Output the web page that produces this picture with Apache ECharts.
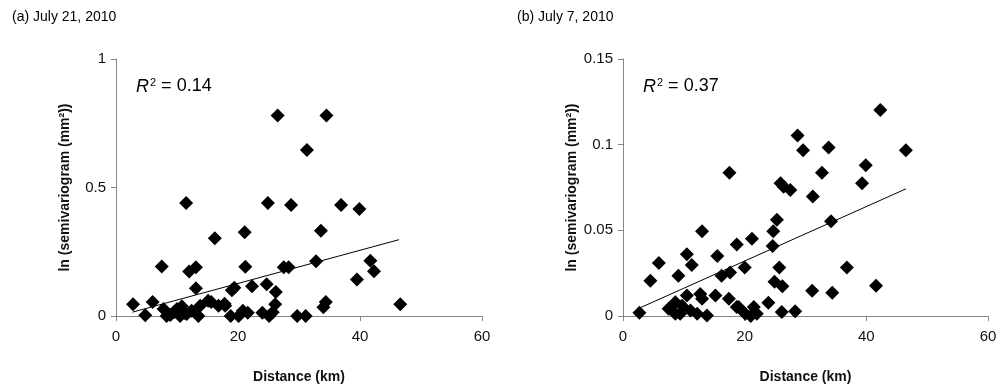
<!DOCTYPE html>
<html><head><meta charset="utf-8">
<script src="https://cdn.jsdelivr.net/npm/echarts@6/dist/echarts.min.js"></script>
<style>html,body{margin:0;padding:0;background:#fff}#c{width:1000px;height:389px}</style>
</head><body><div id="c"></div>
<script>
// Panel (a) July 21, 2010 : [distance km, ln semivariogram]
const pointsA = [
 [2.8,0.046],[4.8,0.003],[6.0,0.054],[7.5,0.193],[7.8,0.027],[8.3,0.0],[8.9,0.004],[9.5,0.015],
 [10.0,0.027],[10.5,0.0],[10.8,0.038],[11.2,0.012],[11.6,0.008],[11.5,0.44],[12.0,0.173],[12.4,0.02],
 [13.1,0.19],[13.1,0.108],[13.5,0.0],[13.8,0.04],[15.1,0.059],[15.6,0.054],[16.2,0.303],[16.8,0.04],
 [17.8,0.048],[17.9,0.04],[18.8,0.0],[19.0,0.1],[19.4,0.11],[20.1,0.0],[20.8,0.02],[21.6,0.013],
 [21.1,0.326],[21.2,0.192],[22.3,0.116],[24.0,0.013],[24.7,0.124],[24.9,0.44],[25.1,0.0],[25.7,0.015],
 [26.2,0.093],[26.1,0.046],[26.5,0.78],[27.5,0.19],[28.3,0.19],[28.7,0.432],[29.7,0.0],[31.1,0.0],
 [31.3,0.646],[32.8,0.213],[33.6,0.332],[34.0,0.034],[34.4,0.054],[34.5,0.78],[36.9,0.432],[39.5,0.142],
 [39.9,0.416],[41.7,0.215],[42.3,0.174],[46.6,0.046]
];
const trendA = [[2.7,0.015],[46.4,0.297]];
const r2A = '0.14';

// Panel (b) July 7, 2010
const pointsB = [
 [2.7,0.0019],[4.5,0.0206],[5.9,0.031],[7.5,0.0042],[8.6,0.008],[8.6,0.0013],[9.1,0.0235],[9.4,0.0013],
 [9.7,0.006],[10.5,0.036],[10.5,0.0119],[11.1,0.0032],[11.3,0.0297],[12.2,0.0013],[12.7,0.0129],[13.0,0.010],
 [13.0,0.0495],[13.8,0.0003],[15.2,0.0119],[15.5,0.035],[16.2,0.0235],[17.4,0.010],[17.5,0.0836],[17.6,0.0254],
 [18.7,0.0418],[18.7,0.0052],[19.0,0.0052],[20.0,0.0283],[20.1,0.0013],[21.0,0.0],[21.2,0.0451],[21.5,0.0052],
 [22.0,0.0013],[23.9,0.0077],[24.6,0.0408],[24.7,0.0495],[24.9,0.020],[25.3,0.0562],[25.7,0.0283],[25.9,0.0775],
 [26.1,0.0023],[26.2,0.0173],[26.4,0.0755],[27.5,0.0736],[28.3,0.0027],[28.7,0.1054],[29.6,0.0967],[31.1,0.0148],
 [31.2,0.0697],[32.7,0.0836],[33.8,0.0983],[34.2,0.0553],[34.4,0.0135],[36.8,0.0283],[39.3,0.0775],[39.9,0.088],
 [41.6,0.0177],[42.3,0.1202],[46.5,0.0967]
];
const trendB = [[2.7,0.0046],[46.5,0.0742]];
const r2B = '0.37';

const xTicks = [0,20,40,60];
const yTicksA = [0,0.5,1];
const yTicksB = [0,0.05,0.1,0.15];

const axisGray = '#868686';
const font = 'Liberation Sans, Arial, sans-serif';

function xAxis(gi){
  return {gridIndex:gi,type:'value',min:xTicks[0],max:xTicks[xTicks.length-1],interval:xTicks[1]-xTicks[0],
    name:'Distance (km)',nameLocation:'middle',nameGap:54,
    nameTextStyle:{fontFamily:font,fontWeight:'bold',fontSize:14,color:'#111'},
    axisLine:{lineStyle:{color:axisGray,width:1}},axisTick:{show:true,length:5,lineStyle:{color:axisGray}},
    axisLabel:{fontFamily:font,fontSize:15,color:'#111',margin:13},splitLine:{show:false}};
}
function yAxis(gi,ticks){
  return {gridIndex:gi,type:'value',min:ticks[0],max:ticks[ticks.length-1],interval:ticks[1]-ticks[0],
    name:'ln (semivariogram (mm²))',nameLocation:'middle',nameGap:44,
    nameTextStyle:{fontFamily:font,fontWeight:'bold',fontSize:14,color:'#111'},
    axisLine:{show:true,lineStyle:{color:axisGray,width:1}},axisTick:{show:true,length:5,lineStyle:{color:axisGray}},
    axisLabel:{fontFamily:font,fontSize:15,color:'#111',margin:10},splitLine:{show:false}};
}
function r2Title(left, val){
  return {left:left,top:72,text:'{i|R}{s|2}{n| = '+val+'}',
    textStyle:{fontWeight:'normal',rich:{i:{fontFamily:font,fontStyle:'italic',fontWeight:'normal',fontSize:18,color:'#000'},
      s:{fontFamily:font,fontSize:11,fontWeight:'normal',color:'#000',verticalAlign:'top',padding:[0,0,8,1]},
      n:{fontFamily:font,fontSize:18,fontWeight:'normal',color:'#000'}}}};
}
const chart = echarts.init(document.getElementById('c'),null,{renderer:'canvas'});
chart.setOption({
  animation:false,
  title:[
    {left:7,top:5,text:'(a) July 21, 2010',textStyle:{fontFamily:font,fontSize:14,fontWeight:'normal',color:'#000'}},
    {left:512,top:5,text:'(b) July 7, 2010',textStyle:{fontFamily:font,fontSize:14,fontWeight:'normal',color:'#000'}},
    r2Title(131,r2A), r2Title(638,r2B)
  ],
  grid:[{left:116,top:59,width:366,height:258},{left:623,top:59,width:365,height:258}],
  xAxis:[xAxis(0),xAxis(1)],
  yAxis:[yAxis(0,yTicksA),yAxis(1,yTicksB)],
  series:[
    {type:'scatter',xAxisIndex:0,yAxisIndex:0,data:pointsA,symbol:'diamond',symbolSize:14,itemStyle:{color:'#000',opacity:1}},
    {type:'line',xAxisIndex:0,yAxisIndex:0,data:trendA,symbol:'none',lineStyle:{color:'#000',width:1}},
    {type:'scatter',xAxisIndex:1,yAxisIndex:1,data:pointsB,symbol:'diamond',symbolSize:14,itemStyle:{color:'#000',opacity:1}},
    {type:'line',xAxisIndex:1,yAxisIndex:1,data:trendB,symbol:'none',lineStyle:{color:'#000',width:1}}
  ]
});
</script></body></html>
